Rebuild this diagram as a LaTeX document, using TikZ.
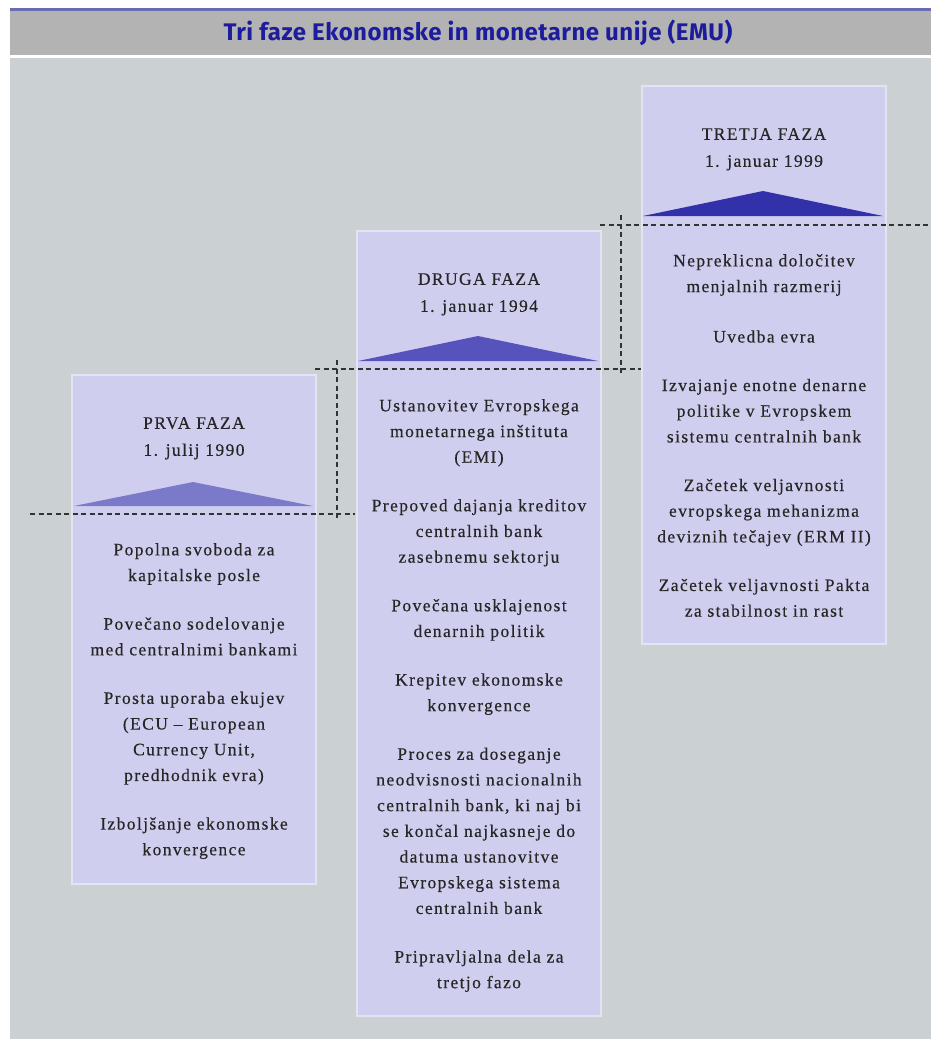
\documentclass[tikz,border=0pt]{standalone}
\usepackage{fontspec}
\setmainfont{Liberation Serif}[LetterSpace=8, FakeBold=0.4]
\newfontfamily\titlefont{Fira Sans}[LetterSpace=2]
\usetikzlibrary{positioning}
\definecolor{cline}{HTML}{6B6BB5}
\definecolor{cbar}{HTML}{B3B3B3}
\definecolor{cpanel}{HTML}{CBD0D3}
\definecolor{cbox}{HTML}{D0CEEE}
\definecolor{cedge}{HTML}{E4E3F3}
\definecolor{ctriA}{HTML}{7B79C9}
\definecolor{ctriB}{HTML}{5753BD}
\definecolor{ctriC}{HTML}{3331AA}
\definecolor{ctitle}{HTML}{1C1C9C}
\definecolor{ctext}{HTML}{262626}
\definecolor{cguide}{HTML}{333333}
\tikzset{
  every picture/.style={x=1pt, y=-1pt},
  phasebox/.style={draw=cedge, fill=cbox, line width=2pt, anchor=north west, inner sep=0pt, minimum width=244pt},
  item/.style={font=\fontsize{17.5pt}{25.7pt}\selectfont, text=ctext, align=center, inner sep=0pt,
    execute at begin node={\rule{0pt}{14pt}}, execute at end node={\rule[-5pt]{0pt}{5pt}}},
  first/.style={item, below=169pt of #1.north},
  heading/.style={item, font=\fontsize{17.5pt}{27pt}\selectfont, below=43pt of #1.north},
  guide/.style={draw=cguide, line width=2.1pt, dash pattern=on 5pt off 3.5pt},
  title/.style={font=\titlefont\bfseries\fontsize{24pt}{28pt}\selectfont, text=ctitle},
  node distance=31pt,
}
\begin{document}
\begin{tikzpicture}
  \useasboundingbox[fill=white] (0,0) rectangle (931,1039);
  % title bar and panel
  \fill[cline] (10,8) rectangle (931,11);
  \fill[cbar] (10,11) rectangle (931,55);
  \fill[cpanel] (10,58) rectangle (931,1039);
  \node[title] (title) at (478,33) {Tri faze Ekonomske in monetarne unije (EMU)};
  % phase boxes
  \node[phasebox, minimum height=509pt] (prva) at (71,374) {};
  \node[phasebox, minimum height=785pt] (druga) at (356,230) {};
  \node[phasebox, minimum height=558pt] (tretja) at (641,85) {};
  % triangles
  \fill[ctriA] (74,506) -- (193,482) -- (313,506) -- cycle;
  \fill[ctriB] (358,361) -- (478,336) -- (598,361) -- cycle;
  \fill[ctriC] (643,216) -- (763,191) -- (883,216) -- cycle;
  % dashed steps
  \draw[guide] (30,514) -- (355,514);
  \draw[guide] (337,360) -- (337,519);
  \draw[guide] (315,369) -- (641,369);
  \draw[guide] (621,215) -- (621,375);
  \draw[guide] (600,225) -- (931,225);
  % first phase
  \node[heading=prva] (prvahead) {PRVA FAZA\\1. julij 1990};
  \node[first=prva] (p1) {Popolna svoboda za\\kapitalske posle};
  \node[item, below=of p1] (p2) {Povečano sodelovanje\\med centralnimi bankami};
  \node[item, below=of p2] (p3) {Prosta uporaba ekujev\\(ECU – European\\Currency Unit,\\predhodnik evra)};
  \node[item, below=of p3] (p4) {Izboljšanje ekonomske\\konvergence};
  % second phase
  \node[heading=druga] (drugahead) {DRUGA FAZA\\1. januar 1994};
  \node[first=druga] (d1) {Ustanovitev Evropskega\\monetarnega inštituta\\(EMI)};
  \node[item, below=of d1] (d2) {Prepoved dajanja kreditov\\centralnih bank\\zasebnemu sektorju};
  \node[item, below=of d2] (d3) {Povečana usklajenost\\denarnih politik};
  \node[item, below=of d3] (d4) {Krepitev ekonomske\\konvergence};
  \node[item, below=of d4] (d5) {Proces za doseganje\\neodvisnosti nacionalnih\\centralnih bank, ki naj bi\\se končal najkasneje do\\datuma ustanovitve\\Evropskega sistema\\centralnih bank};
  \node[item, below=of d5] (d6) {Pripravljalna dela za\\tretjo fazo};
  % third phase
  \node[heading=tretja] (tretjahead) {TRETJA FAZA\\1. januar 1999};
  \node[first=tretja] (t1) {Nepreklicna določitev\\menjalnih razmerij};
  \node[item, below=of t1] (t2) {Uvedba evra};
  \node[item, below=of t2] (t3) {Izvajanje enotne denarne\\politike v Evropskem\\sistemu centralnih bank};
  \node[item, below=of t3] (t4) {Začetek veljavnosti\\evropskega mehanizma\\deviznih tečajev (ERM II)};
  \node[item, below=of t4] (t5) {Začetek veljavnosti Pakta\\za stabilnost in rast};
\end{tikzpicture}
\end{document}
